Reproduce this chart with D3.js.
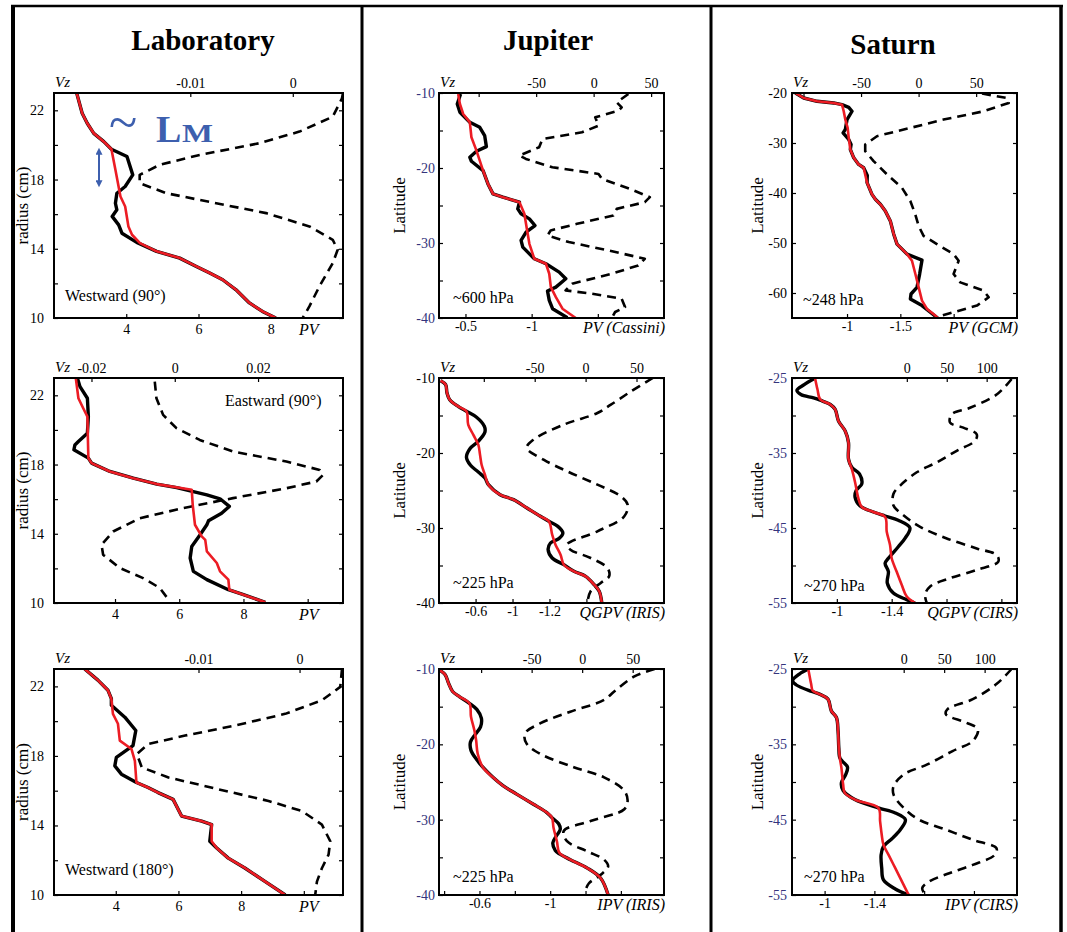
<!DOCTYPE html>
<html>
<head>
<meta charset="utf-8">
<script src="https://cdn.jsdelivr.net/npm/d3@7"></script>
<style>
    body { margin: 0; background: #fff; }
    svg, svg text { font-family: "Liberation Serif", Tinos, "Times New Roman", Times, "DejaVu Serif", serif; }
</style>
</head>
<body>
<div id="chart"></div>
<script>
'use strict';

// every series is [radius or latitude, value]
// solid lines use the bottom (PV) axis, dashed lines the top (Vz) axis

// ---- Laboratory ----
let lab1Red = [[22.98,2.63],[21.83,2.78],[21.25,2.92],[20.67,3.10],[20.19,3.38],[19.75,3.59],[18.56,3.70],[17.02,3.84],[16.44,3.97],[15.29,4.06],[14.81,4.16],[14.33,4.38],[13.85,4.84],[13.46,5.48],[12.98,5.94],[12.60,6.31],[12.21,6.67],[11.63,7.04],[10.87,7.41],[10.38,7.77],[10.0,8.14]];
let lab1Black = [[22.98,2.63],[21.83,2.78],[21.25,2.92],[20.67,3.10],[20.19,3.38],[19.75,3.59],[19.33,4.02],[18.27,4.18],[17.60,3.97],[17.21,3.74],[16.63,3.70],[16.25,3.74],[15.87,3.61],[15.38,3.79],[14.90,3.88],[14.37,4.29],[13.85,4.84],[13.46,5.48],[12.98,5.94],[12.60,6.31],[12.21,6.67],[11.63,7.04],[10.87,7.41],[10.38,7.77],[10.0,8.14]];
let lab1Dash = [[23.0,0.0049],[22.69,0.0048],[21.63,0.0039],[20.77,0.00065],[20.10,-0.00325],[19.42,-0.00909],[18.85,-0.01299],[18.27,-0.01494],[17.79,-0.01494],[17.21,-0.01234],[16.63,-0.00747],[16.06,-0.0026],[15.29,0.00162],[14.52,0.0039],[13.94,0.00438],[13.17,0.0039],[11.83,0.0026],[10.67,0.00162],[10.0,0.00097]];

let lab2Red = [[22.98,2.78],[21.83,2.86],[21.25,3.01],[20.77,3.14],[18.37,3.17],[18.08,3.27],[17.60,3.84],[17.21,4.57],[16.87,5.30],[16.54,6.39],[15.67,6.42],[14.52,6.49],[13.85,6.70],[13.65,6.81],[12.98,6.86],[12.31,7.17],[11.83,7.27],[11.35,7.53],[10.77,7.56],[10.48,8.00],[10.04,8.68]];
let lab2Black = [[22.98,2.83],[22.5,2.91],[21.83,3.14],[20.77,3.17],[19.81,3.14],[19.33,2.86],[19.13,2.75],[18.85,2.72],[18.37,3.17],[18.08,3.27],[17.60,3.84],[17.21,4.57],[16.87,5.30],[16.67,5.92],[16.25,6.86],[16.02,7.27],[15.58,7.56],[15.19,7.32],[14.75,6.91],[14.52,6.86],[13.94,6.65],[13.27,6.39],[12.6,6.34],[11.83,6.44],[11.35,6.86],[10.77,7.53],[10.48,8.00],[10.04,8.68]];
let lab2Dash = [[22.79,-0.0048],[21.83,-0.0044],[20.87,-0.0028],[20.10,0.0004],[19.42,0.006],[18.75,0.014],[18.17,0.0268],[17.69,0.0348],[17.40,0.0356],[17.02,0.034],[16.63,0.0268],[16.06,0.014],[15.48,0.002],[14.90,-0.0084],[14.13,-0.0148],[13.37,-0.0176],[12.79,-0.0172],[12.02,-0.0132],[11.44,-0.0076],[10.87,-0.0036],[10.10,-0.0012]];

let lab3Red = [[23.0,3.01],[22.36,3.43],[21.78,3.75],[21.29,3.86],[20.42,3.91],[19.85,4.07],[18.88,4.13],[18.40,4.50],[17.72,4.61],[16.47,4.66],[16.18,5.03],[15.89,5.35],[15.50,5.83],[14.54,6.10],[14.25,6.74],[14.05,7.06],[13.09,7.06],[12.70,7.22],[12.12,7.59],[11.54,8.13],[10.77,8.77],[10.0,9.41]];
let lab3Black = [[23.0,3.01],[22.36,3.43],[21.78,3.75],[21.29,3.86],[20.91,3.86],[20.23,4.29],[19.46,4.64],[18.59,4.55],[18.26,4.29],[17.92,4.02],[17.43,3.97],[16.95,4.18],[16.47,4.66],[16.18,5.03],[15.89,5.35],[15.50,5.83],[14.54,6.10],[14.25,6.74],[14.05,7.06],[13.09,7.0],[12.70,7.22],[12.12,7.59],[11.54,8.13],[10.77,8.77],[10.0,9.41]];
let lab3Dash = [[23.0,0.0042],[22.93,0.00419],[21.97,0.00403],[21.20,0.00221],[20.42,-0.00142],[19.75,-0.00637],[19.17,-0.01132],[18.69,-0.01495],[18.11,-0.0161],[17.34,-0.01561],[16.76,-0.01297],[16.08,-0.00802],[15.41,-0.00307],[14.83,0.00023],[14.05,0.00221],[13.09,0.00304],[12.32,0.00287],[11.54,0.00221],[10.77,0.00172],[10.0,0.00155]];

// ---- Jupiter ----
let jup1Red = [[-10.13,-0.445],[-11.46,-0.458],[-12.80,-0.483],[-13.91,-0.533],[-15.9,-0.545],[-17.68,-0.583],[-19.01,-0.608],[-20.34,-0.633],[-22.12,-0.67],[-23.45,-0.708],[-23.89,-0.783],[-24.56,-0.908],[-26.11,-0.945],[-28.77,-0.97],[-30.11,-0.983],[-32.1,-1.02],[-32.77,-1.108],[-34.10,-1.133],[-35.88,-1.145],[-37.21,-1.183],[-38.76,-1.233],[-40.0,-1.333]];
let jup1Black = [[-10.13,-0.463],[-11.46,-0.438],[-12.57,-0.458],[-13.91,-0.533],[-14.57,-0.608],[-15.68,-0.645],[-17.15,-0.658],[-17.77,-0.583],[-18.57,-0.533],[-19.10,-0.545],[-20.34,-0.633],[-22.12,-0.67],[-23.45,-0.708],[-23.89,-0.783],[-24.56,-0.908],[-25.45,-0.895],[-26.11,-0.92],[-26.78,-0.983],[-27.67,-1.025],[-28.55,-0.958],[-29.66,-0.92],[-30.55,-0.933],[-32.10,-1.02],[-32.77,-1.108],[-33.88,-1.208],[-34.77,-1.258],[-35.88,-1.183],[-36.41,-1.12],[-37.65,-1.133],[-38.76,-1.158],[-39.96,-1.27]];
let jup1Dash = [[-10.13,30.2],[-11.24,20.1],[-11.91,24.4],[-12.35,21.6],[-13.24,1.4],[-14.35,4.3],[-15.24,-10.1],[-16.13,-44.5],[-17.23,-47.4],[-18.34,-64.7],[-18.79,-58.9],[-19.90,-35.9],[-20.79,4.3],[-21.45,7.2],[-22.78,31.6],[-23.89,48.9],[-24.56,44.5],[-25.45,20.1],[-26.33,17.2],[-27.44,-14.4],[-28.33,-37.4],[-29.0,-40.2],[-29.88,-21.6],[-30.99,12.9],[-32.10,44.5],[-32.99,38.8],[-34.10,15.8],[-35.43,-18.7],[-36.32,-24.4],[-36.77,-1.4],[-37.43,24.4],[-38.54,27.3],[-39.2,18.7],[-40.0,15.8]];

let jup2Red = [[-10.36,-0.316],[-10.89,-0.357],[-12.0,-0.368],[-12.89,-0.39],[-13.78,-0.458],[-14.44,-0.526],[-16.22,-0.54],[-17.56,-0.581],[-18.89,-0.622],[-20.22,-0.636],[-21.56,-0.649],[-22.89,-0.676],[-24.22,-0.704],[-25.56,-0.799],[-26.22,-0.908],[-27.33,-1.017],[-28.44,-1.126],[-29.11,-1.195],[-30.89,-1.222],[-32.22,-1.249],[-33.56,-1.29],[-34.89,-1.317],[-35.78,-1.399],[-36.44,-1.494],[-37.56,-1.563],[-38.44,-1.604],[-40.0,-1.625]];
let jup2Black = [[-10.36,-0.316],[-10.89,-0.357],[-12.0,-0.368],[-12.89,-0.39],[-13.78,-0.458],[-14.44,-0.526],[-15.24,-0.608],[-16.44,-0.671],[-17.2,-0.676],[-18.44,-0.622],[-19.42,-0.554],[-20.58,-0.526],[-21.64,-0.559],[-22.53,-0.622],[-23.33,-0.676],[-24.22,-0.704],[-25.56,-0.799],[-26.22,-0.908],[-27.33,-1.017],[-28.44,-1.126],[-29.11,-1.195],[-29.78,-1.268],[-30.67,-1.309],[-31.42,-1.276],[-32.0,-1.208],[-32.89,-1.189],[-34.0,-1.222],[-34.89,-1.317],[-35.78,-1.399],[-36.44,-1.494],[-37.56,-1.563],[-38.44,-1.604],[-40.0,-1.625]];
let jup2Dash = [[-10.0,66.0],[-11.78,44.6],[-13.56,24.8],[-14.67,11.6],[-16.22,-21.5],[-18.22,-51.2],[-19.33,-57.8],[-20.89,-41.3],[-22.44,-18.2],[-24.22,11.6],[-25.78,34.7],[-26.89,41.3],[-28.44,38.0],[-30.44,11.6],[-32.22,-18.2],[-32.89,-14.9],[-34.0,4.95],[-35.33,21.5],[-36.44,23.1],[-37.33,14.9],[-38.44,4.95],[-40.0,1.65]];

let jup3Red = [[-10.18,-0.377],[-10.76,-0.406],[-11.88,-0.425],[-12.99,-0.448],[-13.66,-0.486],[-14.55,-0.543],[-16.34,-0.552],[-18.13,-0.571],[-19.46,-0.581],[-21.25,-0.59],[-23.04,-0.619],[-24.38,-0.676],[-25.49,-0.733],[-26.61,-0.81],[-27.95,-0.905],[-29.06,-0.981],[-29.73,-1.01],[-31.07,-1.019],[-32.86,-1.038],[-34.42,-1.053],[-35.31,-1.114],[-36.43,-1.21],[-37.77,-1.286],[-40.0,-1.328]];
let jup3Black = [[-10.18,-0.377],[-10.76,-0.406],[-11.88,-0.425],[-12.99,-0.448],[-13.66,-0.486],[-14.55,-0.543],[-15.36,-0.585],[-16.56,-0.611],[-17.68,-0.606],[-18.66,-0.577],[-19.69,-0.549],[-20.8,-0.552],[-22.05,-0.585],[-23.04,-0.619],[-24.38,-0.676],[-25.49,-0.733],[-26.61,-0.81],[-27.95,-0.905],[-29.06,-0.981],[-29.73,-1.01],[-30.54,-1.048],[-31.29,-1.057],[-32.19,-1.034],[-33.08,-1.015],[-34.11,-1.029],[-34.55,-1.053],[-35.31,-1.114],[-36.43,-1.21],[-37.77,-1.286],[-40.0,-1.328]];
let jup3Dash = [[-10.0,71.7],[-10.98,51.7],[-12.99,31.7],[-14.11,21.7],[-15.67,-11.7],[-17.23,-41.7],[-18.57,-56.7],[-19.91,-55],[-21.25,-41.7],[-23.04,-8.3],[-24.38,21.7],[-26.16,41.7],[-27.5,45],[-28.62,41.7],[-30.18,8.3],[-31.52,-18.3],[-32.86,-15],[-34.2,5],[-35.31,21.7],[-36.21,25.7],[-37.32,18.3],[-38.44,6.7],[-39.55,2.7]];

// ---- Saturn ----
let sat1Red = [[-20.0,-0.516],[-21.0,-0.594],[-21.66,-0.719],[-21.99,-0.875],[-22.33,-0.953],[-23.65,-0.969],[-25.32,-0.984],[-26.98,-1.006],[-28.97,-1.016],[-31.3,-1.031],[-32.96,-1.063],[-34.29,-1.109],[-34.95,-1.156],[-37.94,-1.188],[-40.27,-1.234],[-41.26,-1.266],[-42.26,-1.313],[-43.59,-1.359],[-45.58,-1.406],[-48.24,-1.438],[-50.23,-1.469],[-51.23,-1.516],[-52.23,-1.563],[-53.55,-1.609],[-56.21,-1.641],[-58.87,-1.672],[-61.53,-1.703],[-63.19,-1.75],[-64.52,-1.828],[-65.0,-1.85]];
let sat1Black = [[-20.0,-0.516],[-21.0,-0.594],[-21.66,-0.719],[-21.99,-0.875],[-22.33,-0.953],[-22.86,-1.016],[-23.65,-1.047],[-25.32,-1.0],[-27.31,-0.984],[-27.97,-0.963],[-29.3,-1.016],[-30.3,-1.038],[-31.3,-1.031],[-32.96,-1.063],[-34.29,-1.109],[-34.95,-1.156],[-36.5,-1.19],[-37.94,-1.188],[-40.27,-1.234],[-41.26,-1.266],[-42.26,-1.313],[-43.59,-1.359],[-45.58,-1.406],[-48.24,-1.438],[-50.23,-1.469],[-51.23,-1.516],[-52.23,-1.563],[-53.42,-1.703],[-56.21,-1.681],[-58.87,-1.656],[-60.2,-1.6],[-61.2,-1.594],[-62.52,-1.703],[-63.85,-1.781],[-65.0,-1.85]];
let sat1Dash = [[-20.1,55.1],[-21.0,76.8],[-21.99,78.3],[-23.65,56.5],[-25.32,21.7],[-26.98,-7.2],[-28.64,-36.2],[-30.3,-46.4],[-31.63,-46.4],[-33.62,-39.1],[-36.28,-27.5],[-38.94,-14.5],[-41.59,-7.2],[-44.25,-2.9],[-46.58,0],[-48.57,4.3],[-50.23,15.9],[-52.23,30.4],[-53.55,34.8],[-56.21,30.4],[-57.87,36.2],[-59.53,56.5],[-60.86,60.9],[-62.52,50.7],[-63.65,33.3],[-64.52,20.3],[-65.0,15.9]];

let sat2Red = [[-25.09,-0.842],[-26.54,-0.859],[-27.87,-0.879],[-28.53,-0.952],[-29.19,-0.988],[-30.73,-1.012],[-32.06,-1.061],[-33.6,-1.085],[-35.81,-1.085],[-37.13,-1.109],[-38.9,-1.133],[-41.1,-1.158],[-42.2,-1.182],[-42.87,-1.267],[-43.53,-1.352],[-45.51,-1.364],[-47.28,-1.388],[-49.04,-1.4],[-50.81,-1.436],[-52.57,-1.473],[-54.11,-1.509],[-55.0,-1.57]];
let sat2Black = [[-25.0,-0.842],[-25.88,-0.762],[-26.63,-0.709],[-27.21,-0.738],[-27.65,-0.83],[-27.96,-0.879],[-28.53,-0.952],[-29.19,-0.988],[-30.73,-1.012],[-32.06,-1.061],[-33.6,-1.085],[-35.81,-1.085],[-36.9,-1.109],[-37.79,-1.165],[-39.12,-1.182],[-40.0,-1.141],[-40.88,-1.133],[-42.07,-1.17],[-42.87,-1.267],[-43.4,-1.352],[-43.97,-1.448],[-44.98,-1.533],[-46.39,-1.497],[-47.5,-1.448],[-49.04,-1.376],[-49.7,-1.352],[-50.81,-1.376],[-52.35,-1.368],[-53.67,-1.412],[-54.55,-1.509],[-55.0,-1.57]];
let sat2Dash = [[-25.13,131.3],[-27.21,112.5],[-28.97,79.2],[-29.85,56.3],[-30.96,54.2],[-31.62,70.8],[-32.5,87.5],[-33.38,85.4],[-34.71,62.5],[-36.25,37.5],[-37.57,12.5],[-39.34,-8.3],[-40.44,-16.7],[-42.0,-16.7],[-43.3,-4.2],[-44.85,16.7],[-46.39,50.0],[-47.72,87.5],[-48.6,112.5],[-49.48,114.6],[-50.59,87.5],[-51.69,54.2],[-52.79,29.2],[-53.89,22.9],[-55.0,25]];

let sat3Red = [[-25.09,-0.870],[-27.0,-0.892],[-27.89,-0.905],[-28.33,-0.959],[-29.0,-1.027],[-30.56,-1.054],[-31.44,-1.095],[-33.22,-1.108],[-35.44,-1.114],[-36.78,-1.122],[-38.11,-1.135],[-40.33,-1.149],[-41.44,-1.162],[-42.33,-1.243],[-43.44,-1.432],[-45.22,-1.446],[-47.0,-1.459],[-48.33,-1.473],[-49.67,-1.514],[-51.44,-1.568],[-53.22,-1.622],[-55.0,-1.676]];
let sat3Black = [[-25.0,-0.870],[-25.67,-0.797],[-26.56,-0.743],[-27.09,-0.770],[-27.98,-0.897],[-28.33,-0.959],[-29.0,-1.027],[-30.56,-1.054],[-31.44,-1.095],[-33.22,-1.108],[-35.44,-1.114],[-36.78,-1.122],[-37.22,-1.141],[-38.02,-1.184],[-39.0,-1.17],[-40.11,-1.135],[-41.13,-1.149],[-42.33,-1.243],[-43.44,-1.432],[-44.11,-1.568],[-45.0,-1.649],[-46.33,-1.608],[-47.53,-1.541],[-48.56,-1.473],[-49.67,-1.454],[-51.44,-1.459],[-53.0,-1.473],[-54.2,-1.568],[-55.0,-1.676]];
let sat3Dash = [[-25.0,133.3],[-27.0,114.6],[-29.0,85.4],[-30.33,54.2],[-31.0,52.1],[-32.11,77.1],[-33.0,91.7],[-34.56,85.4],[-35.89,60.4],[-37.67,29.2],[-39.0,0],[-40.56,-12.5],[-41.67,-12.5],[-43.44,0],[-45.0,18.8],[-46.33,52.1],[-47.67,85.4],[-48.78,114.6],[-49.67,112.5],[-51.0,85.4],[-52.11,56.3],[-53.22,31.3],[-54.11,22.9],[-55.0,27.1]];

// ---- ticks and labels ----
let labYTicks = [10, 12, 14, 16, 18, 20, 22];
let labYLabels = ['10', '', '14', '', '18', '', '22'];
let jupYTicks = [-40, -35, -30, -25, -20, -15, -10];
let jupYLabels = ['-40', '', '-30', '', '-20', '', '-10'];
let sat1YTicks = [-60, -50, -40, -30, -20];
let sat1YLabels = ['-60', '-50', '-40', '-30', '-20'];
let satYTicks = [-55, -50, -45, -40, -35, -30, -25];
let satYLabels = ['-55', '', '-45', '', '-35', '', '-25'];

let lab1PvTicks = [4, 6, 8];
let lab1PvLabels = ['4', '6', '8'];
let lab23PvTicks = [4, 6, 8, 10];
let lab23PvLabels = ['4', '6', '8', ''];
let lab13VzTicks = [-0.01, 0];
let lab13VzLabels = ['-0.01', '0'];
let lab2VzTicks = [-0.02, 0, 0.02];
let lab2VzLabels = ['-0.02', '0', '0.02'];

let jup1PvTicks = [-0.5, -1, -1.5];
let jup1PvLabels = ['-0.5', '-1', ''];
let jup2PvTicks = [-0.6, -0.9, -1.2, -1.5];
let jup2PvLabels = ['-0.6', '-1', '-1.2', ''];
let jup3PvTicks = [-0.4, -0.6, -0.8, -1, -1.2, -1.4];
let jup3PvLabels = ['', '-0.6', '', '-1', '', ''];
let jupVzTicks = [-100, -50, 0, 50];
let jupVzLabels = ['', '-50', '0', '50'];

let sat1PvTicks = [-1, -1.5, -2];
let sat1PvLabels = ['-1', '-1.5', ''];
let sat1VzTicks = [-100, -50, 0, 50];
let sat1VzLabels = ['', '-50', '0', '50'];
let satPvTicks = [-1, -1.4, -1.8, -2.2];
let satPvLabels = ['-1', '-1.4', '', ''];
let satVzTicks = [0, 50, 100];
let satVzLabels = ['0', '50', '100'];

let titles = ['Laboratory', 'Jupiter', 'Saturn'];

// ---- layout ----
let serif = '"Liberation Serif", Tinos, "Times New Roman", Times, "DejaVu Serif", serif';
let width = 1067, height = 932;
let cols = [{x: 54, w: 289, pad: 10, title: 203}, {x: 439, w: 225, pad: 4, title: 548}, {x: 792, w: 225, pad: 5, title: 893}];
let rows = [{y: 93, h: 225}, {y: 378, h: 225}, {y: 669, h: 226}];
let navy = '#34347c';
let red = '#ec1c24';
let blue = '#3d5fae';

let panels = [
    {c: 0, r: 0, yDom: [10, 23], pvDom: [2, 10], vzDom: [-0.0233, 0.0049], red: lab1Red, black: lab1Black, dash: lab1Dash,
        yT: labYTicks, yL: labYLabels, pvT: lab1PvTicks, pvL: lab1PvLabels, vzT: lab13VzTicks, vzL: lab13VzLabels,
        note: 'Westward (90°)', nx: 11, ny: 208, pvName: 'PV', yName: 'radius (cm)', smooth: false, yColor: '#000'},
    {c: 0, r: 1, yDom: [10, 23], pvDom: [2.1, 11.1], vzDom: [-0.029, 0.0404], red: lab2Red, black: lab2Black, dash: lab2Dash,
        yT: labYTicks, yL: labYLabels, pvT: lab23PvTicks, pvL: lab23PvLabels, vzT: lab2VzTicks, vzL: lab2VzLabels,
        note: 'Eastward (90°)', nx: 171, ny: 28, pvName: 'PV', yName: 'radius (cm)', smooth: false, yColor: '#000'},
    {c: 0, r: 2, yDom: [10, 23], pvDom: [2.03, 11.25], vzDom: [-0.0243, 0.0043], red: lab3Red, black: lab3Black, dash: lab3Dash,
        yT: labYTicks, yL: labYLabels, pvT: lab23PvTicks, pvL: lab23PvLabels, vzT: lab13VzTicks, vzL: lab13VzLabels,
        note: 'Westward (180°)', nx: 11, ny: 206, pvName: 'PV', yName: 'radius (cm)', smooth: false, yColor: '#000'},
    {c: 1, r: 0, yDom: [-40, -10], pvDom: [-0.3, -2.0], vzDom: [-134.5, 61.2], red: jup1Red, black: jup1Black, dash: jup1Dash,
        yT: jupYTicks, yL: jupYLabels, pvT: jup1PvTicks, pvL: jup1PvLabels, vzT: jupVzTicks, vzL: jupVzLabels,
        note: '~600 hPa', nx: 14, ny: 210, pvName: 'PV (Cassini)', yName: 'Latitude', smooth: false, yColor: navy},
    {c: 1, r: 1, yDom: [-40, -10], pvDom: [-0.303, -2.13], vzDom: [-144, 77], red: jup2Red, black: jup2Black, dash: jup2Dash,
        yT: jupYTicks, yL: jupYLabels, pvT: jup2PvTicks, pvL: jup2PvLabels, vzT: jupVzTicks, vzL: jupVzLabels,
        note: '~225 hPa', nx: 14, ny: 210, pvName: 'QGPV (IRIS)', yName: 'Latitude', smooth: true, yColor: '#000'},
    {c: 1, r: 2, yDom: [-40, -10], pvDom: [-0.371, -1.644], vzDom: [-141.7, 81], red: jup3Red, black: jup3Black, dash: jup3Dash,
        yT: jupYTicks, yL: jupYLabels, pvT: jup3PvTicks, pvL: jup3PvLabels, vzT: jupVzTicks, vzL: jupVzLabels,
        note: '~225 hPa', nx: 14, ny: 213, pvName: 'IPV (IRIS)', yName: 'Latitude', smooth: true, yColor: navy},
    {c: 2, r: 0, yDom: [-65, -20], pvDom: [-0.484, -2.594], vzDom: [-110, 85.5], red: sat1Red, black: sat1Black, dash: sat1Dash,
        yT: sat1YTicks, yL: sat1YLabels, pvT: sat1PvTicks, pvL: sat1PvLabels, vzT: sat1VzTicks, vzL: sat1VzLabels,
        note: '~248 hPa', nx: 11, ny: 212, pvName: 'PV (GCM)', yName: 'Latitude', smooth: false, yColor: '#000'},
    {c: 2, r: 1, yDom: [-55, -25], pvDom: [-0.673, -2.314], vzDom: [-143.8, 138], red: sat2Red, black: sat2Black, dash: sat2Dash,
        yT: satYTicks, yL: satYLabels, pvT: satPvTicks, pvL: satPvLabels, vzT: satVzTicks, vzL: satVzLabels,
        note: '~270 hPa', nx: 12, ny: 213, pvName: 'QGPV (CIRS)', yName: 'Latitude', smooth: true, yColor: navy},
    {c: 2, r: 2, yDom: [-55, -25], pvDom: [-0.738, -2.546], vzDom: [-138, 140], red: sat3Red, black: sat3Black, dash: sat3Dash,
        yT: satYTicks, yL: satYLabels, pvT: satPvTicks, pvL: satPvLabels, vzT: satVzTicks, vzL: satVzLabels,
        note: '~270 hPa', nx: 12, ny: 213, pvName: 'IPV (CIRS)', yName: 'Latitude', smooth: true, yColor: navy}
];

let svg = d3.select('#chart').append('svg')
    .attr('width', width)
    .attr('height', height)
    .attr('font-family', serif);

svg.append('rect').attr('width', width).attr('height', height).attr('fill', '#fff');

// frame around the three columns
let frame = svg.append('g').attr('stroke', '#000').attr('fill', 'none');
frame.append('line').attr('x1', 11).attr('x2', 1063).attr('y1', 6).attr('y2', 6).attr('stroke-width', 2.5);
frame.append('line').attr('x1', 13).attr('x2', 13).attr('y1', 5).attr('y2', height).attr('stroke-width', 4);
frame.append('line').attr('x1', 362).attr('x2', 362).attr('y1', 5).attr('y2', height).attr('stroke-width', 3);
frame.append('line').attr('x1', 711).attr('x2', 711).attr('y1', 5).attr('y2', height).attr('stroke-width', 3);
frame.append('line').attr('x1', 1061).attr('x2', 1061).attr('y1', 5).attr('y2', height).attr('stroke-width', 3.5);

titles.forEach(function(t, i) {
    svg.append('text')
        .attr('x', cols[i].title)
        .attr('y', i === 2 ? 54 : 50)
        .attr('text-anchor', 'middle')
        .attr('font-family', serif)
        .attr('font-size', 29)
        .attr('font-weight', 'bold')
        .text(t);
});

// axis helper: inward ticks, labels from a parallel array
function drawAxis(g, gen, scale, ticks, labels, pad, color) {
    let ax = gen(scale)
        .tickValues(ticks)
        .tickSizeInner(-4)
        .tickSizeOuter(0)
        .tickPadding(pad)
        .tickFormat(function(d) {
            let i = ticks.indexOf(d);
            return labels ? labels[i] : '';
        });
    g.call(ax);
    g.attr('font-family', serif).attr('font-size', 14);
    g.select('.domain').remove();
    g.selectAll('.tick line').attr('stroke', '#000').attr('stroke-width', 1.2);
    g.selectAll('.tick text').attr('fill', color || '#000');
}

panels.forEach(function(p, idx) {
    let col = cols[p.c], row = rows[p.r];
    let w = col.w, h = row.h;

    let y = d3.scaleLinear().domain(p.yDom).range([h, 0]);
    let x = d3.scaleLinear().domain(p.pvDom).range([0, w]);
    let xTop = d3.scaleLinear().domain(p.vzDom).range([0, w]);

    let g = svg.append('g')
        .attr('transform', 'translate(' + col.x + ',' + row.y + ')');

    g.append('clipPath').attr('id', 'clip' + idx)
        .append('rect').attr('x', -1).attr('y', -1).attr('width', w + 2).attr('height', h + 2);

    drawAxis(g.append('g'), d3.axisLeft, y, p.yT, p.yL, col.pad, p.yColor);
    drawAxis(g.append('g').attr('transform', 'translate(' + w + ',0)'), d3.axisRight, y, p.yT, null, 0);
    drawAxis(g.append('g').attr('transform', 'translate(0,' + h + ')'), d3.axisBottom, x, p.pvT, p.pvL, p.c === 0 ? 6 : 3);
    drawAxis(g.append('g'), d3.axisTop, xTop, p.vzT, p.vzL, 5);

    let curve = p.smooth ? d3.curveCatmullRom.alpha(0.5) : d3.curveLinear;
    let pvLine = d3.line()
        .x(function(d) { return x(d[1]); })
        .y(function(d) { return y(d[0]); })
        .curve(curve);
    let vzLine = d3.line()
        .x(function(d) { return xTop(d[1]); })
        .y(function(d) { return y(d[0]); })
        .curve(curve);

    let lines = g.append('g').attr('clip-path', 'url(#clip' + idx + ')').attr('fill', 'none')
        .attr('stroke-linejoin', 'round');
    lines.append('path').attr('d', vzLine(p.dash))
        .attr('stroke', '#000').attr('stroke-width', 2.6).attr('stroke-dasharray', '9,6');
    lines.append('path').attr('d', pvLine(p.black))
        .attr('stroke', '#000').attr('stroke-width', 3.4);
    lines.append('path').attr('d', pvLine(p.red))
        .attr('stroke', red).attr('stroke-width', 2.6);

    g.append('rect').attr('width', w).attr('height', h)
        .attr('fill', 'none').attr('stroke', '#000').attr('stroke-width', 2);

    // axis names
    g.append('text').attr('x', 1).attr('y', -6)
        .attr('font-size', 15).attr('font-style', 'italic').text('Vz');
    if (p.c === 0) {
        g.append('text').attr('x', w - 44).attr('y', h + 17)
            .attr('font-size', 16).attr('font-style', 'italic').text(p.pvName);
    } else {
        g.append('text').attr('x', w + 1).attr('y', h + 15)
            .attr('text-anchor', 'end')
            .attr('font-size', 16).attr('font-style', 'italic').text(p.pvName);
    }

    let lx = p.c === 0 ? -26 : (p.c === 1 ? -34 : -29);
    g.append('text')
        .attr('transform', 'translate(' + lx + ',' + (h / 2) + ') rotate(-90)')
        .attr('text-anchor', 'middle')
        .attr('font-size', p.c === 0 ? 17 : 17)
        .text(p.yName);

    g.append('text').attr('x', p.nx).attr('y', p.ny)
        .attr('font-size', 16).text(p.note);
});

// length-scale annotation on the first laboratory panel
let defs = svg.append('defs');
defs.append('marker')
    .attr('id', 'arrowHead')
    .attr('viewBox', '0 0 10 10')
    .attr('refX', 4).attr('refY', 5)
    .attr('markerWidth', 4.5).attr('markerHeight', 3.5)
    .attr('orient', 'auto-start-reverse')
    .append('path').attr('d', 'M0,0 L10,5 L0,10 z').attr('fill', blue);

svg.append('line')
    .attr('x1', 99).attr('x2', 99).attr('y1', 152).attr('y2', 183)
    .attr('stroke', blue).attr('stroke-width', 2)
    .attr('marker-start', 'url(#arrowHead)')
    .attr('marker-end', 'url(#arrowHead)');

svg.append('text').attr('x', 109).attr('y', 140)
    .attr('font-size', 52).attr('fill', blue).text('~');
svg.append('text').attr('x', 156).attr('y', 142)
    .attr('font-size', 38).attr('font-weight', 'bold').attr('fill', blue).text('L');
svg.append('text').attr('x', 182).attr('y', 142)
    .attr('font-size', 26).attr('font-weight', 'bold').attr('fill', blue)
    .attr('textLength', 31).attr('lengthAdjust', 'spacingAndGlyphs').text('M');
</script>
</body>
</html>
